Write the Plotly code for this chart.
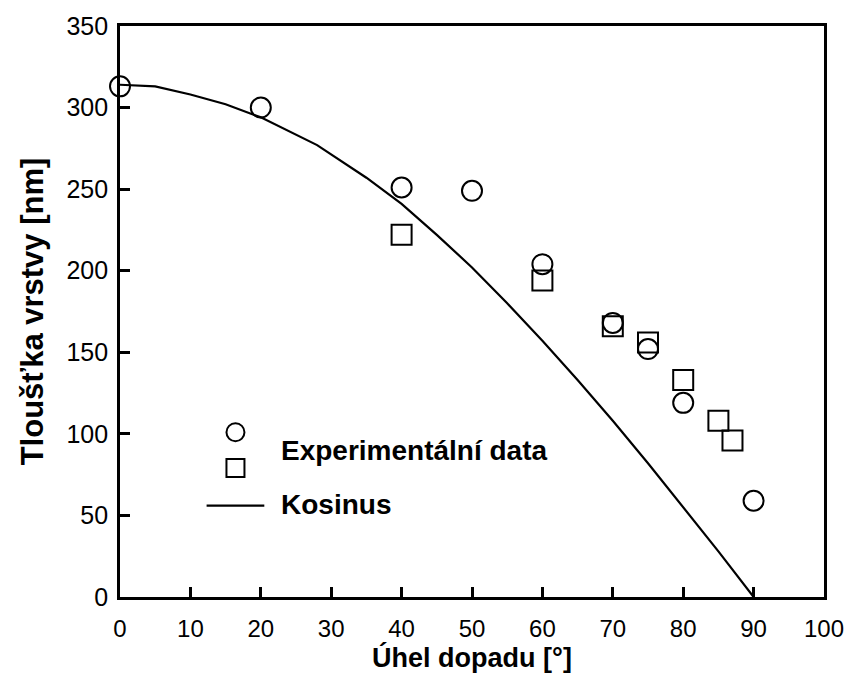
import plotly.graph_objects as go

# Experimental data (circles)
circ_x = [0, 20, 40, 50, 60, 70, 75, 80, 90]
circ_y = [313, 300, 251, 249, 204, 168, 152, 119, 59]
# Experimental data (squares)
sq_x = [40, 60, 70, 75, 80, 85, 87]
sq_y = [222, 194, 166, 156, 133, 108, 96]
# Cosine curve
cos_x = [0, 5, 10, 15, 20, 28, 35, 40, 45, 50, 55, 60, 65, 70, 75, 80, 85, 90]
cos_y = [314, 313, 308, 302, 294, 277, 257, 241, 222, 202, 180, 157, 133, 108, 82, 55, 28, 0]

x_ticks = [0, 10, 20, 30, 40, 50, 60, 70, 80, 90, 100]
y_ticks = [0, 50, 100, 150, 200, 250, 300, 350]

FONT = "Liberation Sans, Arial, sans-serif"
MS = 20

fig = go.Figure()
fig.add_trace(go.Scatter(x=cos_x, y=cos_y, mode="lines",
                         line=dict(color="black", width=2.2), showlegend=False))
fig.add_trace(go.Scatter(x=circ_x, y=circ_y, mode="markers",
                         marker=dict(symbol="circle-open", size=MS, color="black",
                                     line=dict(width=2)),
                         showlegend=False, cliponaxis=False))
fig.add_trace(go.Scatter(x=sq_x, y=sq_y, mode="markers",
                         marker=dict(symbol="square-open", size=MS, color="black",
                                     line=dict(width=2)),
                         showlegend=False, cliponaxis=False))

# Hand-drawn legend inside plot
fig.add_trace(go.Scatter(x=[16.4], y=[101], mode="markers",
                         marker=dict(symbol="circle-open", size=MS - 2, color="black",
                                     line=dict(width=2)), showlegend=False))
fig.add_trace(go.Scatter(x=[16.4], y=[79], mode="markers",
                         marker=dict(symbol="square-open", size=MS - 2, color="black",
                                     line=dict(width=2)), showlegend=False))
fig.add_trace(go.Scatter(x=[12.3, 20.5], y=[56, 56], mode="lines",
                         line=dict(color="black", width=2.2), showlegend=False))
fig.add_annotation(x=22.6, y=90, xref="x", yref="y", text="<b>Experimentální data</b>",
                   showarrow=False, xanchor="left", yanchor="middle",
                   font=dict(family=FONT, size=28, color="black"))
fig.add_annotation(x=22.6, y=57, xref="x", yref="y", text="<b>Kosinus</b>",
                   showarrow=False, xanchor="left", yanchor="middle",
                   font=dict(family=FONT, size=28, color="black"))

fig.update_layout(
    width=856, height=686,
    margin=dict(l=120, r=30, t=24, b=89),
    paper_bgcolor="white", plot_bgcolor="white",
    font=dict(family=FONT, color="black", size=25),
)
fig.update_xaxes(range=[0, 100], tickvals=x_ticks, ticktext=[str(v) for v in x_ticks],
                 ticks="inside", ticklen=10, tickwidth=2.5, tickcolor="black",
                 showline=True, linecolor="black", linewidth=2.8, mirror=True,
                 showgrid=False, zeroline=False, ticklabelstandoff=8,
                 title=dict(text="<b>Úhel dopadu [°]</b>", font=dict(size=27), standoff=6),
                 tickfont=dict(size=24))
fig.update_yaxes(range=[0, 350], tickvals=y_ticks,
                 ticks="inside", ticklen=10, tickwidth=2.5, tickcolor="black",
                 showline=True, linecolor="black", linewidth=2.8, mirror=True,
                 showgrid=False, zeroline=False, ticklabelstandoff=4,
                 title=dict(text="<b>Tloušťka vrstvy [nm]</b>", font=dict(size=31), standoff=14),
                 tickfont=dict(size=25))

fig.write_html("out.html")
